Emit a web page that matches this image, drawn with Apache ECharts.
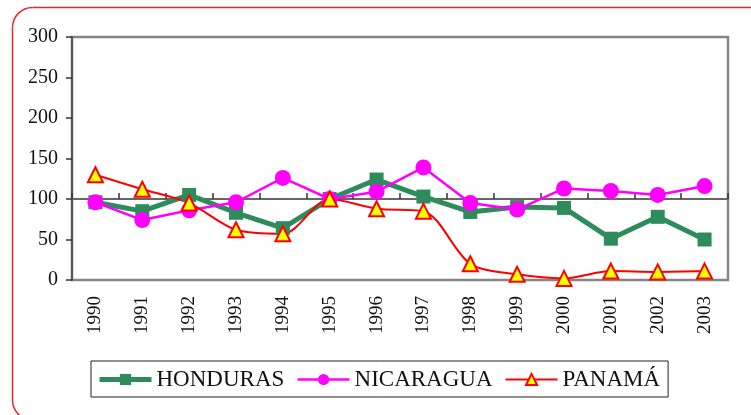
<!DOCTYPE html>
<html>
<head>
<meta charset="utf-8">
<script src="https://cdn.jsdelivr.net/npm/echarts@6/dist/echarts.min.js"></script>
<style>
  html, body { margin: 0; padding: 0; background: #fff; overflow: hidden; }
  #chart { width: 751px; height: 415px; }
</style>
</head>
<body>
<div id="chart"></div>
<script>
// años
const years = ['1990', '1991', '1992', '1993', '1994', '1995', '1996',
  '1997', '1998', '1999', '2000', '2001', '2002', '2003'];

// índices por país
const honduras = [96, 85, 105, 83, 64, 100, 124, 103, 84, 90, 89, 51, 78, 50];
const nicaragua = [96, 74, 86, 96, 126, 100, 109, 139, 95, 87, 113, 110, 105, 116];
const panama = [130, 112, 95, 62, 57, 100, 88, 85, 20, 7, 2, 11, 10, 11];

const yTicks = [0, 50, 100, 150, 200, 250, 300];

const serif = '"Liberation Serif", serif';
const frameStyle = { fill: 'none', stroke: '#e3282c', lineWidth: 1.5 };

const chart = echarts.init(document.getElementById('chart'));

chart.setOption({
  animation: false,
  textStyle: { fontFamily: serif },
  graphic: [
    // marco rojo: solo lados superior e izquierdo visibles
    { type: 'line', silent: true, shape: { x1: 32.5, y1: 7.5, x2: 760, y2: 7.5 }, style: frameStyle },
    { type: 'line', silent: true, shape: { x1: 12.5, y1: 27.5, x2: 12.5, y2: 400 }, style: frameStyle },
    { type: 'arc', silent: true, shape: { cx: 32.5, cy: 27.5, r: 20, startAngle: Math.PI, endAngle: Math.PI * 1.5, clockwise: true }, style: frameStyle },
    { type: 'arc', silent: true, shape: { cx: 32.5, cy: 400, r: 20, startAngle: Math.PI * 0.5, endAngle: Math.PI, clockwise: true }, style: frameStyle }
  ],
  grid: {
    left: 72,
    right: 23,
    top: 37,
    bottom: 135,
    show: true,
    borderColor: '#858585',
    borderWidth: 2.5
  },
  legend: {
    left: 91,
    top: 361,
    padding: [7, 8, 6, 6],
    borderColor: '#222',
    borderWidth: 1,
    itemWidth: 52,
    itemHeight: 14,
    itemGap: 12,
    textStyle: { fontFamily: serif, fontSize: 23, color: '#111' },
    data: [
      { name: 'HONDURAS', lineStyle: { width: 5 } },
      { name: 'NICARAGUA', lineStyle: { width: 2.5 } },
      { name: 'PANAMÁ', lineStyle: { width: 2 } }
    ]
  },
  xAxis: [
    {
      type: 'category',
      data: years,
      boundaryGap: true,
      axisLine: { show: false, onZero: false },
      axisTick: { show: false },
      axisLabel: {
        rotate: 90,
        margin: 16,
        fontFamily: serif,
        fontSize: 19,
        color: '#111'
      }
    },
    {
      // eje que cruza en 100
      type: 'category',
      data: years,
      boundaryGap: true,
      axisLine: {
        show: true,
        onZero: true,
        onZeroAxisIndex: 1,
        lineStyle: { color: '#666', width: 2 }
      },
      axisTick: { show: true, inside: false, length: 6, lineStyle: { color: '#333', width: 1.5 } },
      axisLabel: { show: false }
    }
  ],
  yAxis: [
    {
      type: 'value',
      min: yTicks[0],
      max: yTicks[yTicks.length - 1],
      interval: 50,
      splitLine: { show: false },
      axisLine: { show: true, lineStyle: { color: '#555', width: 2 } },
      axisTick: { show: true, length: 6, lineStyle: { color: '#333', width: 1.5 } },
      axisLabel: { margin: 14, fontFamily: serif, fontSize: 20, color: '#111' }
    },
    {
      type: 'value',
      min: -100,
      max: 200,
      show: false,
      splitLine: { show: false }
    }
  ],
  series: [
    {
      name: 'HONDURAS',
      type: 'line',
      data: honduras,
      symbol: 'rect',
      symbolSize: 14,
      lineStyle: { color: '#2e8b5c', width: 5 },
      itemStyle: { color: '#2e8b5c' }
    },
    {
      name: 'NICARAGUA',
      type: 'line',
      data: nicaragua,
      symbol: 'circle',
      symbolSize: 16,
      lineStyle: { color: '#ff00ff', width: 2.5 },
      itemStyle: { color: '#ff00ff' }
    },
    {
      name: 'PANAMÁ',
      type: 'line',
      data: panama,
      smooth: 0.3,
      symbol: 'triangle',
      symbolSize: 15,
      lineStyle: { color: '#ff0000', width: 2 },
      itemStyle: { color: '#ffff00', borderColor: '#ff0000', borderWidth: 2 }
    }
  ]
});
</script>
</body>
</html>
